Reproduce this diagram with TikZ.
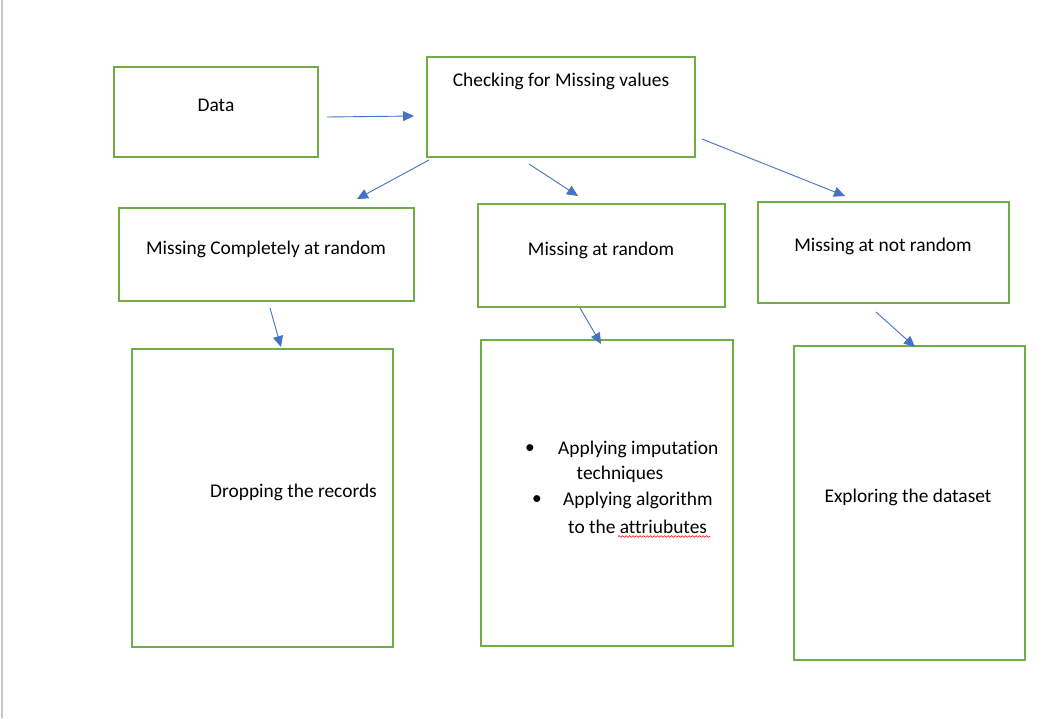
\documentclass[tikz,border=0pt]{standalone}
\usepackage{fontspec}
\setmainfont{Carlito}[Ligatures=NoCommon]
\usetikzlibrary{arrows.meta,decorations.pathmorphing}
\definecolor{boxgreen}{HTML}{70AD47}
\definecolor{arrowblue}{HTML}{4472C4}
\begin{document}
\begin{tikzpicture}[x=1pt,y=-1pt,
  box/.style={draw=boxgreen,line width=2pt,inner sep=0pt},
  lbl/.style={font=\fontsize{19.4}{23}\selectfont,inner sep=0pt,yshift=-1.5pt},
  conn/.style={draw=arrowblue,line width=0.9pt,-{Triangle[length=11pt,width=10pt]}}]
\useasboundingbox[fill=white] (0,0) rectangle (1042,718);
\draw[gray!45,line width=2pt] (1.5,0) -- (1.5,718);
% boxes
\node[box,minimum width=204pt,minimum height=90pt] (data) at (216,112) {};
\node[box,minimum width=268pt,minimum height=100pt] (check) at (561,107) {};
\node[box,minimum width=295pt,minimum height=93pt] (mcar) at (266.5,254.5) {};
\node[box,minimum width=247pt,minimum height=103pt] (mar) at (601.5,255.5) {};
\node[box,minimum width=251pt,minimum height=101pt] (mnar) at (883.5,252.5) {};
\node[box,minimum width=261pt,minimum height=298pt] (drop) at (262.5,498) {};
\node[box,minimum width=252pt,minimum height=306pt] (apply) at (607,493) {};
\node[box,minimum width=231pt,minimum height=314pt] (explore) at (909.5,503) {};
% texts
\node[lbl] (tdata) at (216,104) {Data};
\node[lbl] (tcheck) at (561,80) {Checking for Missing values};
\node[lbl] (tmcar) at (266,248) {Missing Completely at random};
\node[lbl] (tmar) at (601,249) {Missing at random};
\node[lbl] (tmnar) at (883,245) {Missing at not random};
\node[lbl,anchor=west] (tdrop) at (210,491) {Dropping the records};
\node[lbl] (texplore) at (908,496) {Exploring the dataset};
\node[lbl] (b1) at (530,448) {\textbullet};
\node[lbl,anchor=west] (t1) at (558,448) {Applying imputation};
\node[lbl] (t1b) at (620,473) {techniques};
\node[lbl] (b2) at (537,499) {\textbullet};
\node[lbl,anchor=west] (t2) at (563,499) {Applying algorithm};
\node[lbl,anchor=west] (t2b) at (568,525) {to the attriubutes};
\draw[red,line width=0.6pt,decorate,
  decoration={snake,amplitude=0.8pt,segment length=3.5pt}] (618,536.5) -- (710,536.5);
% connector endpoints
\coordinate (a1s) at (327,117); \coordinate (a1e) at (414,116);
\coordinate (a2s) at (429,160); \coordinate (a2e) at (357,199);
\coordinate (a3s) at (529,164); \coordinate (a3e) at (578,196);
\coordinate (a4s) at (702,139); \coordinate (a4e) at (845,196);
\coordinate (a5s) at (270,308); \coordinate (a5e) at (281,347);
\coordinate (a6s) at (580,308); \coordinate (a6e) at (601,344);
\coordinate (a7s) at (876,312); \coordinate (a7e) at (915,347);
\draw[conn] (a1s) -- (a1e);
\draw[conn] (a2s) -- (a2e);
\draw[conn] (a3s) -- (a3e);
\draw[conn] (a4s) -- (a4e);
\draw[conn] (a5s) -- (a5e);
\draw[conn] (a6s) -- (a6e);
\draw[conn] (a7s) -- (a7e);
\end{tikzpicture}
\end{document}
